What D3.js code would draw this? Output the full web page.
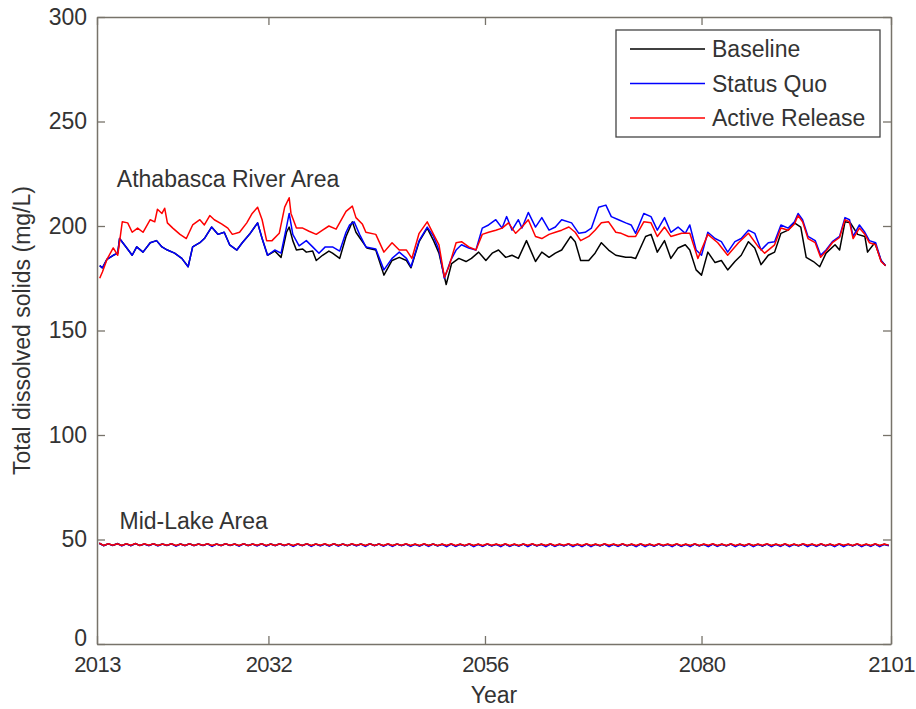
<!DOCTYPE html>
<html>
<head>
<meta charset="utf-8">
<script src="https://cdn.jsdelivr.net/npm/d3@7"></script>
<style>
  body { margin: 0; background: #fff; }
  svg { font-family: "Liberation Sans", Arial, sans-serif; }
</style>
</head>
<body>
<svg id="chart" width="916" height="709"></svg>
<script>
// tick labels and legend
const xTicks = [2013, 2032, 2056, 2080, 2101];
const yTicks = [0, 50, 100, 150, 200, 250, 300];
const seriesNames = ['Baseline', 'Status Quo', 'Active Release'];

// Athabasca River Area, [year, mg/L]
const baselineRiver = [[2013.3,181],[2013.6,180],[2014.1,184],[2014.8,186],[2015.3,187],[2015.5,194],[2016.3,189.5],[2016.9,186],[2017.4,190],[2018.1,187.5],[2018.9,192],[2019.6,193],[2020.2,190],[2020.8,188.5],[2021.6,187],[2022.4,184.5],[2023.1,180.5],[2023.6,190],[2024.4,192],[2024.9,194],[2025.7,199.5],[2026.4,196],[2027.1,197],[2027.7,191],[2028.5,188.5],[2029.1,192],[2029.9,196],[2030.8,201.5],[2031.3,194],[2031.9,186],[2032.7,188],[2033.4,185],[2034.0,197],[2034.3,199.5],[2034.7,193],[2035.1,188.5],[2035.8,189],[2036.2,187.5],[2036.9,188],[2037.3,183.5],[2038.0,186],[2038.7,188],[2039.1,187],[2039.9,184.5],[2040.6,195],[2041.0,199],[2041.3,202],[2041.7,197],[2042.1,194.5],[2042.9,189.5],[2043.9,188.5],[2044.8,176.5],[2045.7,183.5],[2046.5,185],[2047.3,183.5],[2047.8,180],[2048.7,192.5],[2049.6,199],[2050.3,193],[2050.9,187],[2051.7,172],[2052.3,182],[2053.1,184.5],[2053.9,183],[2054.5,184.5],[2055.3,187.5],[2056.1,183.5],[2056.8,187],[2057.5,188.5],[2058.3,185],[2059.0,186],[2059.7,184.5],[2060.6,193],[2061.6,183],[2062.3,187.5],[2063.1,185],[2063.8,187],[2064.5,188.5],[2065.5,195],[2066.0,192.5],[2066.6,183.5],[2067.5,183.5],[2068.2,187],[2068.9,192],[2069.7,188.5],[2070.5,186],[2071.6,185],[2072.2,185],[2072.7,184.5],[2073.8,195],[2074.4,196],[2075.1,187.5],[2075.9,193],[2076.6,184.5],[2077.4,189.5],[2078.2,191],[2078.7,188.5],[2079.4,179],[2080.0,176.5],[2080.7,187.5],[2081.5,182.5],[2082.2,183.5],[2082.9,179],[2083.7,183],[2084.4,186],[2085.2,192.5],[2085.9,189.5],[2086.6,181.5],[2087.4,186],[2088.1,187.5],[2088.8,196.5],[2089.6,198],[2090.3,201.5],[2091.0,199.5],[2091.6,185],[2092.4,183],[2093.1,180.5],[2093.8,187],[2094.8,191],[2095.3,188.5],[2095.9,202],[2096.5,201.5],[2097.3,196],[2098.1,195],[2098.4,187.5],[2099.2,192],[2099.9,183.5],[2100.4,181]];

const statusQuoRiver = [[2013.3,181],[2013.6,180],[2014.1,184],[2014.8,186],[2015.3,187],[2015.5,194],[2016.3,189.5],[2016.9,186],[2017.4,190],[2018.1,187.5],[2018.9,192],[2019.6,193],[2020.2,190],[2020.8,188.5],[2021.6,187],[2022.4,184.5],[2023.1,180.5],[2023.6,190],[2024.4,192],[2024.9,194],[2025.7,199.5],[2026.4,196],[2027.1,197],[2027.7,191],[2028.5,188.5],[2029.1,192],[2029.9,196],[2030.8,201.5],[2031.3,194],[2031.9,186],[2032.7,188.5],[2033.4,187],[2034.0,199.5],[2034.3,206],[2034.7,196],[2035.4,190.5],[2036.2,193],[2036.9,190],[2037.6,187],[2038.3,190],[2039.1,190],[2039.9,188],[2040.6,197],[2041.0,200.5],[2041.5,202],[2042.1,196],[2042.8,190],[2043.9,189],[2044.8,179],[2045.7,184.5],[2046.5,187.5],[2047.3,184.5],[2047.8,180.5],[2048.7,193],[2049.6,199.5],[2050.3,195],[2050.9,188.5],[2051.5,175],[2052.2,183.5],[2052.8,188.5],[2053.4,191],[2054.2,189.5],[2055.0,188.5],[2055.7,199],[2056.4,200.5],[2057.2,203],[2057.9,199],[2058.4,204.5],[2059.0,198],[2059.7,203],[2060.1,199],[2060.8,206.5],[2061.6,199.5],[2062.3,204],[2063.1,198],[2063.8,199.5],[2064.5,203],[2065.6,201.5],[2066.4,196.5],[2067.1,197],[2067.8,199],[2068.6,209],[2069.4,210],[2070.0,204.5],[2070.8,203],[2071.6,201.5],[2072.2,200.5],[2072.7,196.5],[2073.6,206],[2074.4,204.5],[2075.1,198],[2075.9,204],[2076.6,197],[2077.4,199.5],[2078.2,196.5],[2078.7,200.5],[2079.4,188.5],[2080.0,186],[2080.7,197],[2081.5,194],[2082.2,192.5],[2082.9,187.5],[2083.7,192.5],[2084.4,194],[2085.2,198],[2085.9,196.5],[2086.6,188.5],[2087.4,192],[2088.1,192.5],[2088.8,200.5],[2089.6,199],[2090.3,202],[2090.7,206],[2091.2,203],[2091.8,195],[2092.6,193],[2093.2,186],[2093.8,188.5],[2094.5,192.5],[2095.3,195],[2095.9,204],[2096.4,203],[2096.8,195],[2097.5,200.5],[2098.1,197],[2098.6,193],[2099.3,192],[2099.9,183.5],[2100.4,181]];

const activeRiver = [[2013.3,175],[2013.6,178],[2014.1,184],[2014.8,189.5],[2015.3,186],[2015.8,202],[2016.4,201.5],[2016.9,197],[2017.5,199],[2018.1,197],[2018.9,203],[2019.4,202],[2019.7,208],[2020.2,206],[2020.5,208.5],[2020.8,201.5],[2021.4,199],[2022.2,196],[2022.9,194],[2023.6,200.5],[2024.4,203],[2024.9,200.5],[2025.5,205],[2026.0,203],[2026.8,201],[2027.5,199],[2028.0,196],[2028.8,197],[2029.6,201.5],[2030.2,206],[2030.8,209],[2031.3,203],[2031.8,193],[2032.4,193],[2033.2,196.5],[2033.8,209],[2034.3,213.5],[2034.5,206],[2035.1,199],[2035.8,199],[2036.5,197.5],[2037.3,196],[2038.0,198],[2038.7,200],[2039.5,198.5],[2040.6,207],[2041.3,209.5],[2041.7,204],[2042.4,201],[2042.8,197],[2043.9,196],[2044.8,187.5],[2045.7,192],[2046.5,188.5],[2047.3,188.5],[2047.9,184.5],[2048.7,196.5],[2049.6,202],[2050.3,196],[2050.9,191],[2051.5,175.5],[2052.0,180.5],[2052.8,192],[2053.4,192.5],[2054.2,190],[2055.0,188.5],[2055.7,196],[2056.4,197],[2057.2,198],[2057.9,199],[2058.6,201.5],[2059.4,196.5],[2060.1,199.5],[2060.8,203],[2061.6,195],[2062.3,194],[2063.1,196],[2063.8,197],[2064.5,198],[2065.3,199.5],[2066.0,197],[2066.6,193],[2067.5,195],[2068.2,198],[2068.9,201.5],[2069.7,202],[2070.5,197],[2071.1,196.5],[2071.9,195],[2072.7,195],[2073.6,202],[2074.4,201.5],[2075.1,195],[2075.9,199.5],[2076.6,195],[2077.8,196.5],[2078.7,196.5],[2079.6,184.5],[2080.7,196],[2081.8,192],[2082.9,186],[2084.1,192],[2085.2,196.5],[2086.3,190],[2087.0,187],[2088.1,191],[2088.8,199],[2089.6,198],[2090.3,201],[2090.7,205],[2091.2,202],[2091.8,194],[2092.6,192],[2093.2,185],[2093.8,188],[2094.5,192],[2095.3,194.5],[2095.9,203],[2096.4,202],[2096.8,194],[2097.5,199],[2098.1,196],[2098.6,192],[2099.3,191],[2099.9,183],[2100.4,181]];

// Mid-Lake Area, half-year samples starting 2013.25 (88 years x 2)
const midYears = d3.range(2013.25, 2101, 0.5);
const baselineLake = [
  48.2,47.1, 47.9,47.2, 48.0,47.1, 47.9,47.0, 48.1,47.2, 47.8,47.1, 47.9,47.1, 47.8,47.2, 47.9,47.0, 47.8,47.1,
  47.9,47.1, 47.8,47.2, 47.9,47.0, 47.8,47.1, 47.9,47.2, 47.8,47.0, 47.9,47.1, 47.8,47.1, 47.9,47.0, 47.8,47.1,
  47.9,47.1, 47.8,47.0, 47.8,47.1, 47.9,47.0, 47.8,47.1, 47.8,47.0, 47.9,47.1, 47.8,47.0, 47.8,47.1, 47.8,47.0,
  47.9,47.1, 47.8,47.0, 47.8,47.0, 47.8,47.1, 47.8,47.0, 47.7,47.0, 47.8,47.1, 47.8,47.0, 47.7,47.0, 47.8,46.9,
  47.7,47.0, 47.8,47.0, 47.7,46.9, 47.8,47.0, 47.7,47.0, 47.8,46.9, 47.7,47.0, 47.8,46.9, 47.8,47.0, 47.7,47.0,
  47.8,46.9, 47.7,47.0, 47.8,47.0, 47.7,46.9, 47.8,47.0, 47.7,47.0, 47.8,46.9, 47.7,47.0, 47.8,47.0, 47.7,46.9,
  47.8,47.0, 47.7,46.9, 47.8,47.0, 47.7,47.0, 47.8,46.9, 47.7,47.0, 47.8,47.0, 47.7,46.9, 47.8,47.0, 47.7,47.0,
  47.8,46.9, 47.7,47.0, 47.8,47.0, 47.7,46.9, 47.8,47.0, 47.7,47.0, 47.8,46.9, 47.7,47.0, 47.8,47.0, 47.7,46.9,
  47.8,47.0, 47.7,46.9, 47.8,47.0, 47.7,47.0, 47.8,46.9, 47.7,47.0, 47.8,47.0, 47.7,47.1
];
const statusQuoLake = [
  48.2,47.0, 47.9,47.1, 48.0,46.9, 47.9,47.0, 48.1,47.1, 47.8,47.0, 47.9,46.9, 47.8,47.1, 47.9,46.8, 47.8,47.0,
  47.9,47.0, 47.8,47.1, 47.9,46.7, 47.8,47.0, 47.9,47.1, 47.8,46.8, 47.9,47.0, 47.8,46.9, 47.9,46.8, 47.8,47.0,
  47.9,47.0, 47.8,46.7, 47.8,47.0, 47.9,46.7, 47.8,46.9, 47.8,46.8, 47.9,46.8, 47.8,47.0, 47.8,46.9, 47.8,46.7,
  47.9,47.0, 47.8,46.8, 47.8,46.7, 47.8,47.0, 47.8,46.7, 47.7,46.8, 47.8,46.7, 47.8,46.9, 47.7,46.6, 47.8,46.7,
  47.7,46.9, 47.8,46.6, 47.7,46.7, 47.8,46.9, 47.7,46.6, 47.8,46.7, 47.7,46.8, 47.8,46.6, 47.8,46.9, 47.7,46.6,
  47.8,46.7, 47.7,46.9, 47.8,46.6, 47.7,46.6, 47.8,46.6, 47.7,46.9, 47.8,46.6, 47.7,46.7, 47.8,46.9, 47.7,46.6,
  47.8,46.6, 47.7,46.8, 47.8,46.9, 47.7,46.6, 47.8,46.7, 47.7,46.6, 47.8,46.9, 47.7,46.6, 47.8,46.7, 47.7,46.9,
  47.8,46.6, 47.7,46.7, 47.8,46.6, 47.7,46.9, 47.8,46.6, 47.7,46.7, 47.8,46.6, 47.7,46.9, 47.8,46.6, 47.7,46.7,
  47.8,46.9, 47.7,46.6, 47.8,46.6, 47.7,46.9, 47.8,46.6, 47.7,46.7, 47.8,46.6, 47.7,47.0
];
const activeLake = [
  48.3,47.2, 47.9,47.3, 48.0,47.2, 47.9,47.3, 48.1,47.2, 47.9,47.3, 48.0,47.2, 47.8,47.3, 47.9,47.2, 47.8,47.2,
  47.9,47.2, 47.8,47.3, 47.9,47.2, 47.8,47.2, 47.9,47.3, 47.8,47.2, 47.9,47.2, 47.8,47.3, 47.9,47.2, 47.8,47.2,
  47.9,47.3, 47.8,47.2, 47.9,47.2, 47.9,47.2, 47.8,47.3, 47.9,47.2, 47.9,47.2, 47.8,47.2, 47.9,47.3, 47.8,47.2,
  47.9,47.2, 47.8,47.2, 47.9,47.2, 47.8,47.3, 47.9,47.2, 47.8,47.2, 47.9,47.2, 47.8,47.2, 47.8,47.2, 47.9,47.2,
  47.8,47.2, 47.9,47.2, 47.8,47.2, 47.9,47.3, 47.8,47.2, 47.9,47.2, 47.8,47.2, 47.8,47.3, 47.9,47.2, 47.8,47.2,
  47.9,47.2, 47.8,47.3, 47.9,47.2, 47.8,47.2, 47.9,47.2, 47.8,47.2, 47.9,47.3, 47.8,47.2, 47.9,47.2, 47.8,47.2,
  47.9,47.2, 47.8,47.2, 47.9,47.3, 47.8,47.2, 47.9,47.2, 47.8,47.2, 47.9,47.2, 47.8,47.3, 47.9,47.2, 47.8,47.2,
  47.9,47.2, 47.8,47.2, 47.9,47.2, 47.8,47.3, 47.9,47.2, 47.8,47.2, 47.9,47.2, 47.8,47.2, 47.9,47.3, 47.8,47.2,
  47.9,47.2, 47.8,47.2, 47.9,47.3, 47.8,47.2, 47.9,47.2, 47.8,47.2, 47.9,47.2, 47.8,47.3
];

const colors = ['#000000', '#0000ff', '#ff0000'];

const svg = d3.select('#chart');
const margin = { top: 17, right: 25, bottom: 65, left: 97 };
const width = 916 - margin.left - margin.right;
const height = 709 - margin.top - margin.bottom;
const axisColor = '#77736a';
const textColor = '#333';

const x = d3.scaleLinear().domain([2013, 2101]).range([0, width]);
const y = d3.scaleLinear().domain([0, 300]).range([height, 0]);

const g = svg.append('g')
    .attr('transform', `translate(${margin.left},${margin.top})`);

const line = d3.line()
    .x(d => x(d[0]))
    .y(d => y(d[1]));

const lakeLine = d3.line()
    .x((d, i) => x(midYears[i]))
    .y(d => y(d));

// black first, then blue, then red on top
[baselineRiver, statusQuoRiver, activeRiver].forEach((s, i) => {
    g.append('path')
        .datum(s)
        .attr('d', line)
        .attr('fill', 'none')
        .attr('stroke', colors[i])
        .attr('stroke-width', 1.5)
        .attr('stroke-linejoin', 'round');
});
[baselineLake, statusQuoLake, activeLake].forEach((s, i) => {
    g.append('path')
        .datum(s)
        .attr('d', lakeLine)
        .attr('fill', 'none')
        .attr('stroke', colors[i])
        .attr('stroke-width', 1.5);
});

// box axes with inward ticks (matlab style)
const tickLen = 8;
const styleAxis = sel => {
    sel.select('.domain').attr('stroke', axisColor).attr('stroke-width', 1.5);
    sel.selectAll('.tick line').attr('stroke', axisColor).attr('stroke-width', 1.3);
    sel.selectAll('.tick text')
        .attr('fill', textColor)
        .style('font-size', '23px');
};

g.append('g')
    .attr('transform', `translate(0,${height})`)
    .call(d3.axisBottom(x).tickValues(xTicks).tickFormat(d3.format('d'))
        .tickSizeInner(-tickLen).tickSizeOuter(0).tickPadding(12))
    .call(styleAxis)
    .call(a => a.selectAll('.tick text')
        .style('font-size', '22px')
        .style('letter-spacing', '-0.6px'));

g.append('g')
    .call(d3.axisTop(x).tickValues(xTicks).tickFormat('')
        .tickSizeInner(-tickLen).tickSizeOuter(0))
    .call(styleAxis);

g.append('g')
    .call(d3.axisLeft(y).tickValues(yTicks)
        .tickSizeInner(-tickLen).tickSizeOuter(0).tickPadding(10))
    .call(styleAxis)
    // lift the 0 label a little so it clears the 2013 label
    .call(a => a.selectAll('.tick text').filter(d => d === 0).attr('dy', '0.05em'));

g.append('g')
    .attr('transform', `translate(${width},0)`)
    .call(d3.axisRight(y).tickValues(yTicks).tickFormat('')
        .tickSizeInner(-tickLen).tickSizeOuter(0))
    .call(styleAxis);

// area labels
g.append('text')
    .attr('x', x(2015.2))
    .attr('y', y(218.5))
    .attr('fill', textColor)
    .style('font-size', '23px')
    .text('Athabasca River Area');

g.append('text')
    .attr('x', x(2015.5))
    .attr('y', y(55))
    .attr('fill', textColor)
    .style('font-size', '23px')
    .text('Mid-Lake Area');

// axis titles
svg.append('text')
    .attr('x', margin.left + width / 2)
    .attr('y', 703)
    .attr('text-anchor', 'middle')
    .attr('fill', textColor)
    .style('font-size', '23px')
    .text('Year');

svg.append('text')
    .attr('transform', `translate(30,${margin.top + height / 2}) rotate(-90)`)
    .attr('text-anchor', 'middle')
    .attr('fill', textColor)
    .style('font-size', '23px')
    .text('Total dissolved solids (mg/L)');

// legend
const legend = svg.append('g').attr('transform', 'translate(616,30)');
legend.append('rect')
    .attr('width', 264)
    .attr('height', 107)
    .attr('fill', '#fff')
    .attr('stroke', '#444')
    .attr('stroke-width', 1.3);

seriesNames.forEach((name, i) => {
    const row = legend.append('g').attr('transform', `translate(0,${19 + i * 34.5})`);
    row.append('line')
        .attr('x1', 14).attr('x2', 89)
        .attr('stroke', colors[i])
        .attr('stroke-width', 1.5);
    row.append('text')
        .attr('x', 96)
        .attr('y', 8)
        .attr('fill', textColor)
        .style('font-size', '23px')
        .text(name);
});
</script>
</body>
</html>
